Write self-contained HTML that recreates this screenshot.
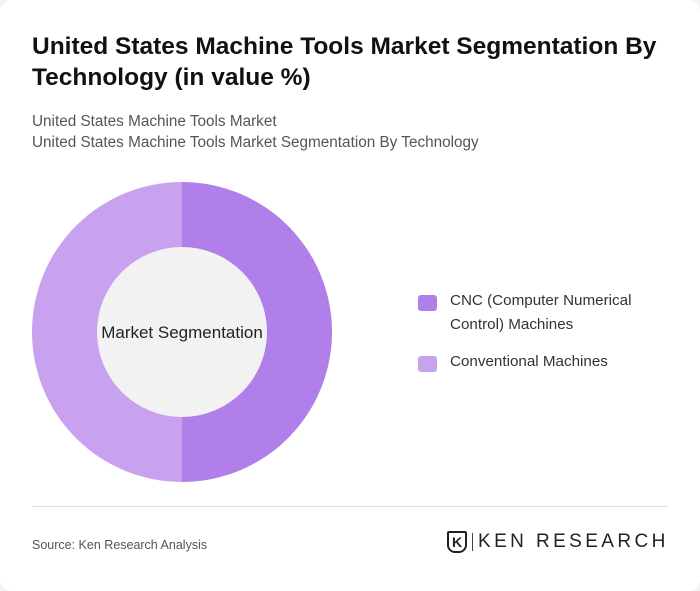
<!DOCTYPE html>
<html><head><meta charset="utf-8">
<style>
html,body{margin:0;padding:0;background:#f4f4f4;}
body{width:700px;height:591px;position:relative;font-family:"Liberation Sans",sans-serif;overflow:hidden;}
#card{position:absolute;left:0;top:0;width:700px;height:591px;background:#fff;border-radius:12px;}
#title{position:absolute;left:32px;top:31px;width:660px;font-size:24.5px;font-weight:bold;line-height:31px;color:#111;}
.sub{position:absolute;left:32px;font-size:15.3px;color:#555;}
.leg{position:absolute;left:418px;font-size:15.2px;color:#333;line-height:24px;}
.sw{position:absolute;left:418px;width:19px;height:16px;border-radius:3px;}
#hr{position:absolute;left:32px;top:506px;width:636px;height:1px;background:#ddd;}
#src{position:absolute;left:32px;top:538px;font-size:12.5px;color:#555;}
</style></head>
<body>
<div id="card">
<div id="title">United States Machine Tools Market Segmentation By Technology (in value %)</div>
<div class="sub" style="top:113px">United States Machine Tools Market</div>
<div class="sub" style="top:134px">United States Machine Tools Market Segmentation By Technology</div>
<svg id="chart" width="700" height="591" style="position:absolute;left:0;top:0"></svg>
<div class="sw" style="top:295px;background:#b07fe9"></div>
<div class="leg" style="left:450px;top:289px">CNC (Computer Numerical<br>Control) Machines</div>
<div class="sw" style="top:356px;background:#c9a2ef"></div>
<div class="leg" style="left:450px;top:350px">Conventional Machines</div>
<div id="hr"></div>
<div id="src">Source: Ken Research Analysis</div>
<div style="position:absolute;left:447px;top:531px;width:20px;height:22px;border:2px solid #222;border-radius:2px 2px 8px 8px;box-sizing:border-box;font-size:14px;font-weight:bold;text-align:center;line-height:18px;color:#222">K</div>
<div style="position:absolute;left:472px;top:533px;width:1px;height:18px;background:#444"></div>
<div style="position:absolute;left:478px;top:531px;font-size:19px;color:#222;letter-spacing:3.4px">KEN RESEARCH</div>
</div>
<script>
const categories=["CNC (Computer Numerical Control) Machines","Conventional Machines"];
const values=[50,50];
const colors=["#b07fe9","#c9a2ef"];
const svg=document.getElementById('chart');
const NS="http://www.w3.org/2000/svg";
const cx=182,cy=332,R=150,r=85;
const total=values.reduce((a,b)=>a+b,0);
let a0=-Math.PI/2;
values.forEach((v,i)=>{
  const a1=a0+v/total*2*Math.PI;
  const large=(a1-a0)>Math.PI?1:0;
  const p=(ang,rad)=>[cx+rad*Math.cos(ang),cy+rad*Math.sin(ang)];
  const [x0,y0]=p(a0,R),[x1,y1]=p(a1,R);
  const path=document.createElementNS(NS,'path');
  path.setAttribute('d',`M${cx},${cy} L${x0},${y0} A${R},${R} 0 ${large} 1 ${x1},${y1} Z`);
  path.setAttribute('fill',colors[i]);
  
  
  svg.appendChild(path);
  a0=a1;
});
const c=document.createElementNS(NS,'circle');
c.setAttribute('cx',cx);c.setAttribute('cy',cy);c.setAttribute('r',r);c.setAttribute('fill','#f2f2f2');


svg.appendChild(c);
const t=document.createElementNS(NS,'text');
t.setAttribute('x',cx);t.setAttribute('y',cy+6);t.setAttribute('text-anchor','middle');
t.setAttribute('font-size','17');t.setAttribute('fill','#222');t.setAttribute('font-family','Liberation Sans, sans-serif');
t.textContent='Market Segmentation';


svg.appendChild(t);
</script>
</body></html>
